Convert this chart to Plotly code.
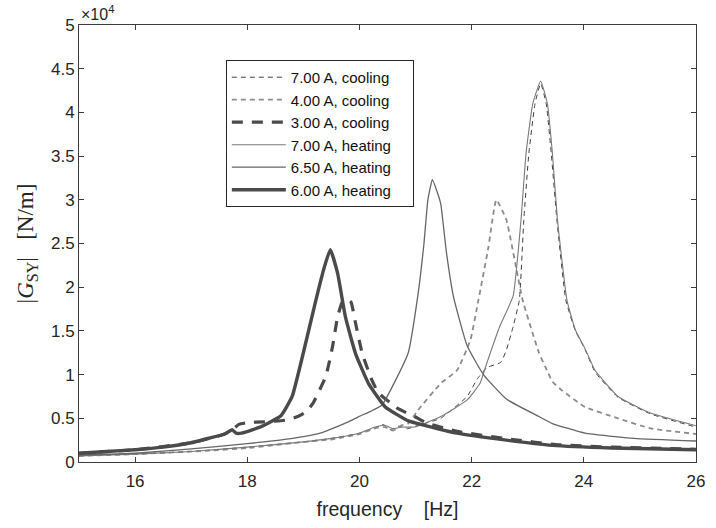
import plotly.graph_objects as go

# values in units of 1e4 N/m
f_700c = [15, 16, 17, 18, 19, 19.5, 20.0, 20.28, 20.42, 20.55, 20.7, 20.85, 21.0, 21.45, 21.92, 22.1, 22.27, 22.4, 22.52, 22.62, 22.74, 22.85, 22.93, 23.02, 23.13, 23.23, 23.33, 23.42, 23.52, 23.68, 23.85, 24.02, 24.2, 24.61, 25.19, 26]
v_700c = [0.07, 0.09, 0.12, 0.17, 0.23, 0.27, 0.33, 0.39, 0.43, 0.37, 0.41, 0.38, 0.41, 0.50, 0.75, 0.95, 1.08, 1.11, 1.14, 1.28, 1.55, 1.85, 2.77, 3.53, 4.10, 4.33, 4.10, 3.53, 2.77, 1.85, 1.50, 1.29, 1.03, 0.74, 0.55, 0.40]

f_400c = [15, 16, 17, 17.32, 18, 19.02, 19.52, 20.0, 20.28, 20.45, 20.6, 20.75, 20.87, 21.04, 21.45, 21.74, 21.98, 22.12, 22.3, 22.44, 22.62, 22.8, 22.91, 23.2, 23.32, 23.44, 23.61, 24.02, 24.61, 25.19, 26]
v_400c = [0.07, 0.09, 0.12, 0.13, 0.16, 0.23, 0.26, 0.32, 0.385, 0.40, 0.36, 0.42, 0.44, 0.59, 0.90, 1.05, 1.40, 1.85, 2.46, 3.0, 2.77, 2.2, 1.85, 1.25, 1.08, 0.92, 0.82, 0.63, 0.50, 0.385, 0.32]

f_300c = [15, 16, 17, 17.5, 17.7, 17.85, 18.0, 18.3, 18.7, 18.9, 19.05, 19.17, 19.4, 19.52, 19.61, 19.7, 19.78, 19.85, 19.93, 20.05, 20.22, 20.34, 20.69, 20.98, 21.22, 21.74, 22.7, 23.5, 24.5, 26]
v_300c = [0.10, 0.14, 0.22, 0.30, 0.35, 0.43, 0.45, 0.46, 0.48, 0.52, 0.575, 0.67, 0.98, 1.32, 1.66, 1.84, 1.86, 1.83, 1.59, 1.24, 0.94, 0.79, 0.61, 0.52, 0.44, 0.35, 0.26, 0.20, 0.17, 0.145]

f_700h = [15, 16, 17, 18, 19, 19.5, 20.0, 20.28, 20.45, 20.6, 20.75, 20.98, 21.45, 21.92, 22.15, 22.27, 22.5, 22.74, 22.88, 22.97, 23.09, 23.23, 23.35, 23.44, 23.53, 23.7, 23.85, 24.02, 24.2, 24.61, 25.19, 26]
v_700h = [0.07, 0.09, 0.12, 0.17, 0.23, 0.27, 0.33, 0.40, 0.42, 0.38, 0.40, 0.40, 0.52, 0.71, 0.90, 1.13, 1.55, 1.90, 2.77, 3.53, 4.10, 4.36, 4.10, 3.53, 2.77, 1.85, 1.51, 1.30, 1.05, 0.75, 0.56, 0.415]

f_650h = [15, 16, 17, 18, 18.58, 19.0, 19.3, 19.58, 19.8, 19.99, 20.2, 20.4, 20.6, 20.87, 21.04, 21.15, 21.22, 21.3, 21.38, 21.45, 21.55, 21.68, 21.92, 22.21, 22.62, 23.2, 23.44, 24.02, 24.9, 26]
v_650h = [0.08, 0.10, 0.15, 0.21, 0.25, 0.29, 0.33, 0.40, 0.46, 0.52, 0.58, 0.65, 0.88, 1.25, 1.90, 2.5, 3.0, 3.23, 3.1, 2.95, 2.4, 1.88, 1.33, 1.0, 0.72, 0.52, 0.44, 0.33, 0.27, 0.24]

f_600h = [15, 15.5, 16, 16.5, 17, 17.3, 17.6, 17.73, 17.8, 17.9, 18.1, 18.3, 18.6, 18.8, 19.0, 19.23, 19.37, 19.48, 19.61, 19.75, 19.93, 20.16, 20.46, 20.87, 21.16, 21.74, 22.62, 23.44, 24.5, 26]
v_600h = [0.10, 0.12, 0.14, 0.17, 0.22, 0.27, 0.32, 0.37, 0.33, 0.33, 0.37, 0.42, 0.53, 0.75, 1.25, 1.87, 2.22, 2.43, 2.16, 1.66, 1.24, 0.90, 0.63, 0.47, 0.42, 0.33, 0.25, 0.19, 0.16, 0.14]

names = ["7.00 A, cooling", "4.00 A, cooling", "3.00 A, cooling",
         "7.00 A, heating", "6.50 A, heating", "6.00 A, heating"]
xs = [f_700c, f_400c, f_300c, f_700h, f_650h, f_600h]
ys = [v_700c, v_400c, v_300c, v_700h, v_650h, v_600h]
styles = [
    dict(color="#404040", width=1.0, dash="5px,4px"),
    dict(color="#8c8c8c", width=1.8, dash="5px,4px"),
    dict(color="#4a4a4a", width=3.2, dash="11px,9px"),
    dict(color="#7a7a7a", width=1.1, dash="solid"),
    dict(color="#666666", width=1.3, dash="solid"),
    dict(color="#4a4a4a", width=3.4, dash="solid"),
]

x_ticks = [16, 18, 20, 22, 24, 26]
y_ticks = [0, 0.5, 1, 1.5, 2, 2.5, 3, 3.5, 4, 4.5, 5]
y_ticklabels = ["0", "0.5", "1", "1.5", "2", "2.5", "3", "3.5", "4", "4.5", "5"]

fig = go.Figure()
for n, x, y, s in zip(names, xs, ys, styles):
    fig.add_trace(go.Scatter(x=x, y=y, mode="lines", name=n + "&nbsp;" * 4,
                             line=dict(shape="spline", smoothing=0.4, **s)))

axis_common = dict(showgrid=False, zeroline=False, showline=True, linecolor="#3c3c3c",
                   linewidth=1, mirror="ticks", ticks="inside", ticklen=5,
                   tickcolor="#3c3c3c", tickfont=dict(family="Liberation Sans, Arial", size=17, color="#262626"))

fig.update_layout(
    width=716, height=528,
    margin=dict(l=79, r=11, t=25, b=66),
    paper_bgcolor="white", plot_bgcolor="white",
    xaxis=dict(range=[15, 26], tickvals=x_ticks, ticklabelstandoff=4, **axis_common,
               title=dict(text="frequency&nbsp;&nbsp;&nbsp;&nbsp;[Hz]", font=dict(family="Liberation Sans, Arial", size=19.5, color="#262626"), standoff=11)),
    yaxis=dict(range=[0, 5], tickvals=y_ticks, ticktext=y_ticklabels, **axis_common,
               title=dict(text="|<i>G</i><sub>SY</sub>|&nbsp;&nbsp;&nbsp;[N/m]", font=dict(family="Liberation Serif, Times New Roman", size=23, color="#262626"), standoff=10)),
    legend=dict(x=0.238, y=0.92, xanchor="left", yanchor="top",
                bgcolor="white", bordercolor="#262626", borderwidth=1,
                font=dict(family="Liberation Sans, Arial", size=15, color="#111111"),
                itemwidth=54, tracegroupgap=0),
    showlegend=True,
    annotations=[dict(text="×10<sup>4</sup>", xref="paper", yref="paper", x=0, y=1,
                      xanchor="left", yanchor="bottom", showarrow=False,
                      font=dict(family="Liberation Sans, Arial", size=16, color="#262626"))],
)

fig.write_html("out.html")
